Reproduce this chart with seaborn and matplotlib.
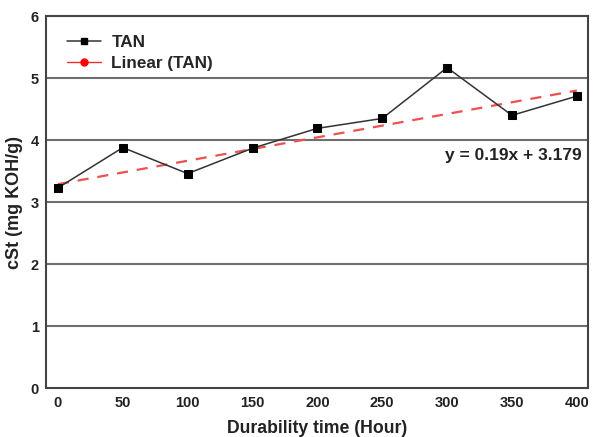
import pandas as pd
import matplotlib
matplotlib.use("Agg")
import matplotlib.pyplot as plt
import seaborn as sns
from matplotlib.lines import Line2D
from matplotlib.ticker import MultipleLocator

# data
hours = [0, 50, 100, 150, 200, 250, 300, 350, 400]
tan = [3.23, 3.88, 3.46, 3.87, 4.19, 4.35, 5.17, 4.40, 4.71]
trend_hours = [0, 400]
trend_vals = [3.29, 4.80]
equation = "y = 0.19x + 3.179"

df = pd.DataFrame({"Hour": hours, "TAN": tan})
trend = pd.DataFrame({"Hour": trend_hours, "Fit": trend_vals})

sns.set_theme(style="white")
plt.rcParams["font.family"] = ["Liberation Sans", "DejaVu Sans"]
plt.rcParams["font.weight"] = "bold"

fig = plt.figure(figsize=(5.98, 4.37), dpi=100)
ax = fig.add_axes([0.077, 0.112, 0.906, 0.851])

# gridlines at each integer
for yv in range(1, 6):
    ax.axhline(yv, color="#6e6e6e", lw=1.5, zorder=1)

sns.lineplot(data=trend, x="Hour", y="Fit", ax=ax, color="#ee5050",
             lw=1.6, zorder=2)
ax.lines[-1].set_dashes([5, 4])
sns.lineplot(data=df, x="Hour", y="TAN", ax=ax, color="#333333", lw=1.1,
             marker="s", markersize=5.5, markerfacecolor="black",
             markeredgecolor="black", zorder=3)

ax.set_xlim(-9.2, 408.5)
ax.set_ylim(0, 6)
ax.xaxis.set_major_locator(MultipleLocator(50))
ax.xaxis.set_minor_locator(MultipleLocator(25))
ax.yaxis.set_major_locator(MultipleLocator(1))
ax.yaxis.set_minor_locator(MultipleLocator(0.5))
ax.tick_params(which="both", direction="in", color="#333333",
               labelsize=10.5, width=1.2)
ax.tick_params(which="major", length=5)
ax.tick_params(which="minor", length=3)
ax.tick_params(axis="x", which="both", pad=6)
ax.tick_params(axis="y", which="both", length=2, pad=5)
for lab in ax.get_xticklabels() + ax.get_yticklabels():
    lab.set_fontweight("bold")
    lab.set_color("#222222")

for s in ax.spines.values():
    s.set_color("#444444")
    s.set_linewidth(1.5)

ax.set_xlabel("Durability time (Hour)", fontsize=12.7, fontweight="bold",
              color="#222222", labelpad=7)
ax.set_ylabel("cSt (mg KOH/g)", fontsize=13, fontweight="bold",
              color="#222222", labelpad=6)

ax.text(404, 3.76, equation, ha="right", va="center", fontsize=12.5,
        fontweight="bold", color="#222222")

handles = [
    Line2D([], [], color="#333333", lw=1.1, marker="s", markersize=5,
           markerfacecolor="black", markeredgecolor="black"),
    Line2D([], [], color="#ee3030", lw=1.0, marker="o", markersize=5,
           markerfacecolor="red", markeredgecolor="red"),
]
ax.legend(handles, ["TAN", "Linear (TAN)"], loc="upper left",
          bbox_to_anchor=(0.01, 0.99), frameon=False,
          handlelength=2.0, handletextpad=0.6, labelspacing=0.35,
          prop={"weight": "bold", "size": 12.3})

fig.savefig("out.png", dpi=100)
